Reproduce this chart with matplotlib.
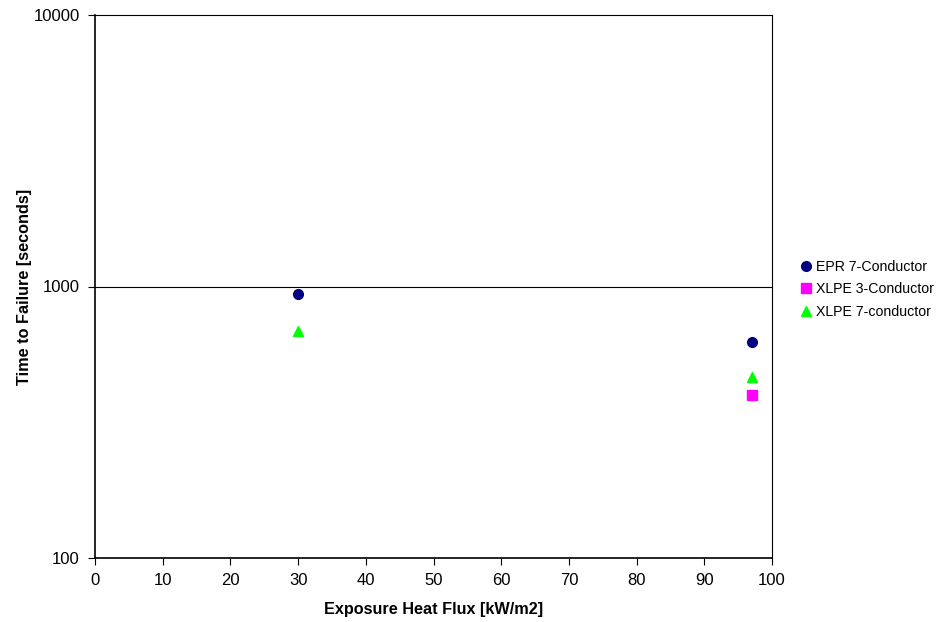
import matplotlib
matplotlib.use("Agg")
import matplotlib.pyplot as plt
from matplotlib.ticker import FixedLocator, NullLocator, FixedFormatter

plt.rcParams['font.family'] = ['Liberation Sans', 'DejaVu Sans']

# data
epr7_flux = [30, 97]
epr7_time = [942, 622]
xlpe3_flux = [97]
xlpe3_time = [400]
xlpe7_flux = [30, 97]
xlpe7_time = [683, 466]

fig = plt.figure(figsize=(9.39, 6.22), dpi=100)
ax = fig.add_axes([95 / 939, 1 - 558 / 622, (772 - 95) / 939, (558 - 15) / 622])

ax.plot(epr7_flux, epr7_time, "o", color="#000080", markersize=7, linestyle="none", label="EPR 7-Conductor")
ax.plot(xlpe3_flux, xlpe3_time, "s", color="#ff00ff", markersize=7, linestyle="none", label="XLPE 3-Conductor")
ax.plot(xlpe7_flux, xlpe7_time, "^", color="#00ff00", markersize=7.5, linestyle="none", label="XLPE 7-conductor")

ax.set_yscale("log")
ax.set_xlim(0, 100)
ax.set_ylim(100, 10000)
ax.xaxis.set_major_locator(FixedLocator(range(0, 101, 10)))
ax.yaxis.set_major_locator(FixedLocator([100, 1000, 10000]))
ax.yaxis.set_major_formatter(FixedFormatter(["100", "1000", "10000"]))
ax.yaxis.set_minor_locator(NullLocator())
ax.axhline(1000, color="black", linewidth=0.8, zorder=0)

for s in ["left", "bottom"]:
    ax.spines[s].set_linewidth(1.2)
for s in ["top", "right"]:
    ax.spines[s].set_linewidth(0.8)

ax.tick_params(axis="both", direction="out", length=5, width=0.8, labelsize=12, pad=6)
ax.set_xlabel("Exposure Heat Flux [kW/m2]", fontsize=11.7, fontweight="bold", labelpad=10)
ax.set_ylabel("Time to Failure [seconds]", fontsize=11.7, fontweight="bold", labelpad=1)

ax.legend(loc="center left", bbox_to_anchor=(1.03, 0.495), frameon=False, fontsize=10.2,
          handletextpad=0.1, handlelength=1.2, labelspacing=0.6, borderaxespad=0)

fig.savefig("out.png", dpi=100)
